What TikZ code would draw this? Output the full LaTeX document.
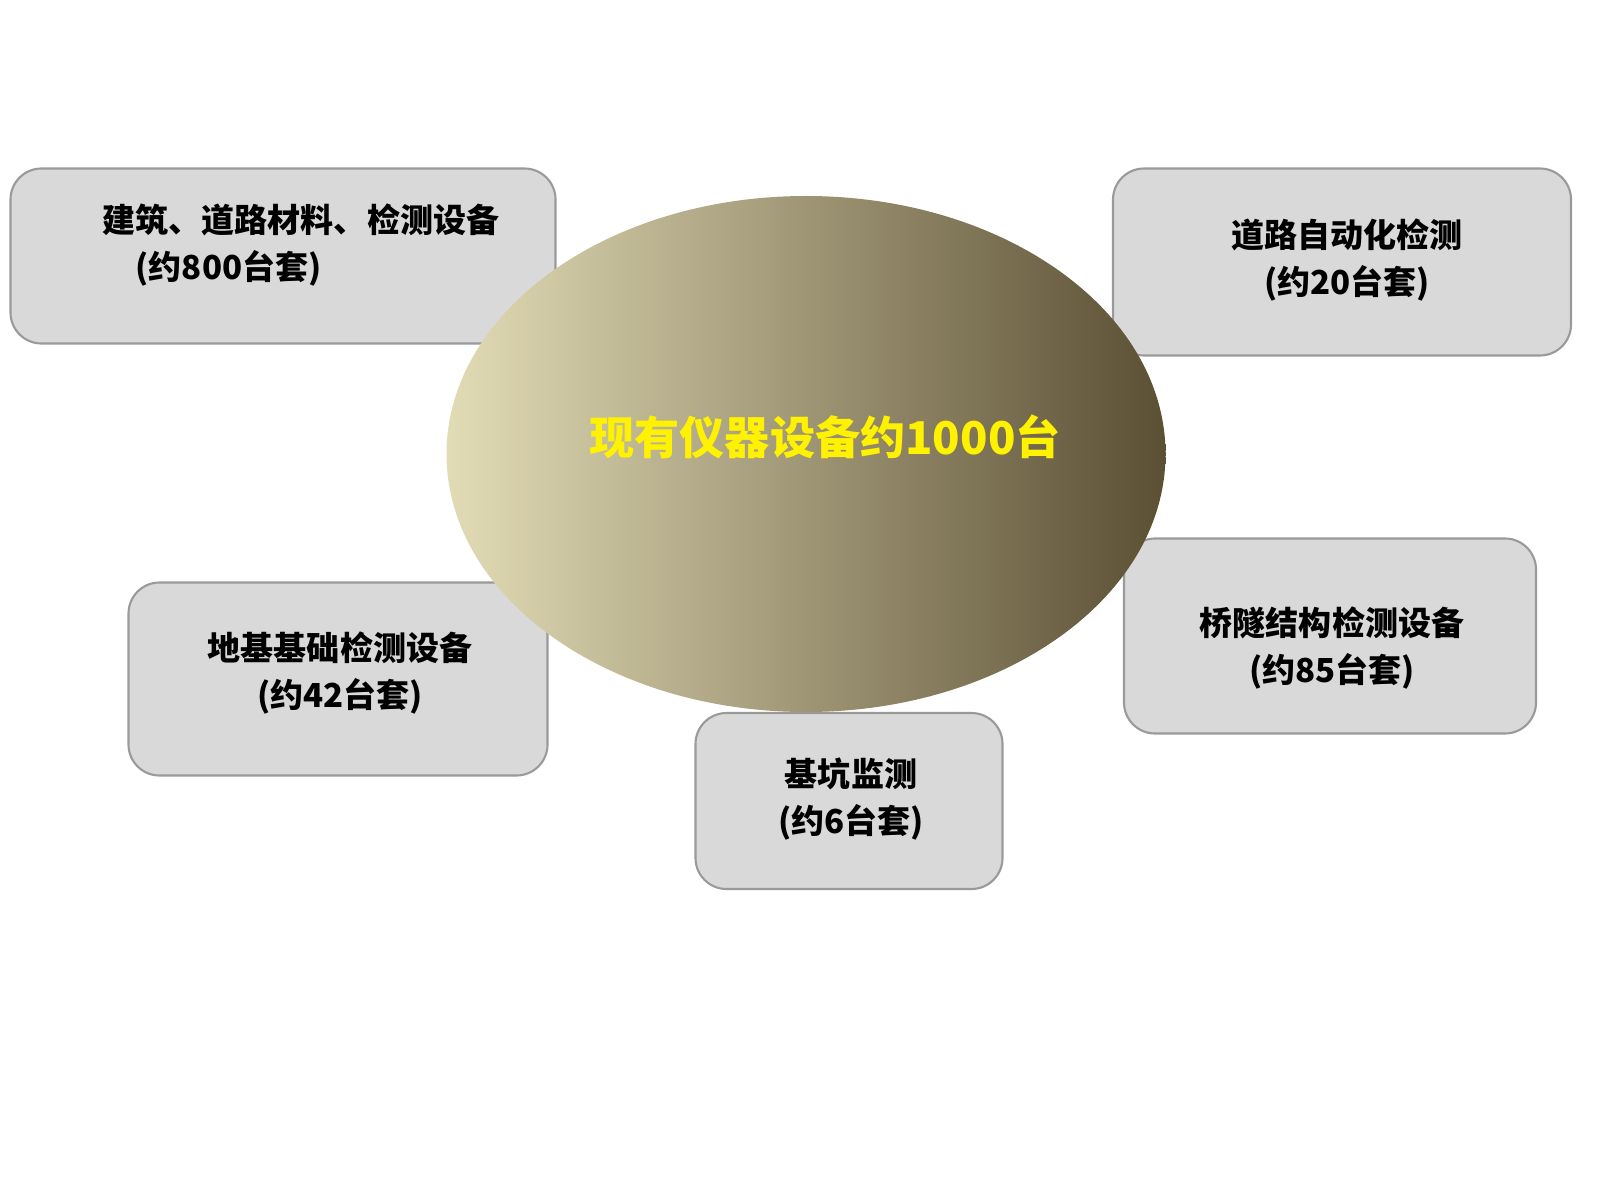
\documentclass[tikz,border=0pt]{standalone}
\usepackage{fontspec}
\setmainfont{Noto Sans CJK SC}
\usetikzlibrary{shapes.geometric}
\definecolor{boxgray}{HTML}{D9D9D9}
\definecolor{edgegray}{HTML}{9A9A9A}
\definecolor{hubleft}{HTML}{E2DCB6}
\definecolor{hubright}{HTML}{5B4F34}
\tikzstyle{countbox} = [rectangle, rounded corners=0.31cm, inner sep=0pt, draw=edgegray, line width=0.6pt, fill=boxgray]
\tikzstyle{boxtext} = [inner sep=0pt, align=center, font=\bfseries\fontsize{9.4}{13.4}\selectfont]
\tikzstyle{hub} = [ellipse, inner sep=0pt, minimum width=7.19cm, minimum height=5.16cm, left color=hubleft, right color=hubright]
\begin{document}
\begin{tikzpicture}
\useasboundingbox (0,0) rectangle (16,12);
% boxes
\node (jzbox) [countbox, minimum width=5.45cm, minimum height=1.75cm] at (2.83,9.44) {};
\node (dlbox) [countbox, minimum width=4.58cm, minimum height=1.87cm] at (13.42,9.38) {};
\node (qsbox) [countbox, minimum width=4.12cm, minimum height=1.95cm] at (13.30,5.64) {};
\node (djbox) [countbox, minimum width=4.19cm, minimum height=1.93cm] at (3.38,5.21) {};
\node (jkbox) [countbox, minimum width=3.07cm, minimum height=1.76cm] at (8.49,3.99) {};
\node (jztext) [boxtext, align=left, anchor=west] at (1.02,9.55) {建筑、道路材料、检测设备\\\hspace*{1em}(约800台套)};
\node (dltext) [boxtext] at (13.47,9.40) {道路自动化检测\\(约20台套)};
\node (qstext) [boxtext] at (13.32,5.52) {桥隧结构检测设备\\(约85台套)};
\node (djtext) [boxtext] at (3.40,5.27) {地基基础检测设备\\(约42台套)};
\node (jktext) [boxtext] at (8.51,4.01) {基坑监测\\(约6台套)};
% centre
\node (hub) [hub] at (8.06,7.46) {};
\node (hubtext) [inner sep=0pt, text=yellow, font=\bfseries\fontsize{12.85}{15}\selectfont] at (8.25,7.63) {现有仪器设备约1000台};
\end{tikzpicture}
\end{document}
